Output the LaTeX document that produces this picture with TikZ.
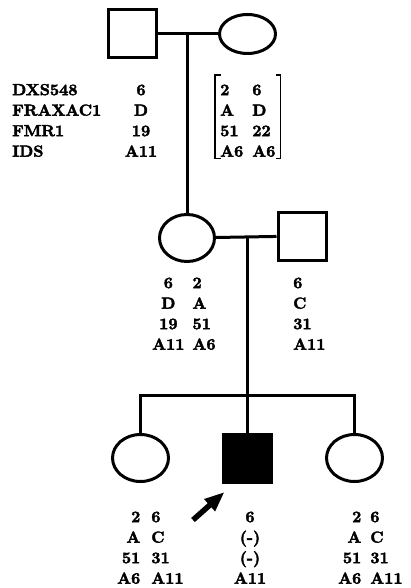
\documentclass[tikz,border=0pt]{standalone}
\usepackage{fontspec}
\usetikzlibrary{arrows.meta,positioning,calc,shapes.geometric}
\newfontfamily\hapfam{lmroman10-bold.otf}[FakeBold=2.5]

\begin{document}
\begin{tikzpicture}[
 x=1pt,y=-1pt,
 male/.style={draw,line width=3pt,minimum size=48pt,inner sep=0pt},
 female/.style={ellipse,draw,line width=3pt,minimum width=56pt,minimum height=47pt,inner sep=0pt},
 ln/.style={line width=3pt},
 hap/.style={inner sep=0pt,font=\hapfam\fontsize{16}{20.5}\selectfont},
 brk/.style={line width=1.4pt},
 arr/.style={-{Triangle[length=20pt,width=15pt]},line width=5.5pt}
]
\useasboundingbox (0,0) rectangle (410,588);
% generation I
\node[male] (f1) at (132,34) {};
\node[female,minimum height=39pt] (m1) at (247.5,34) {};
% generation II
\node[female,minimum width=55pt] (m2) at (187,238) {};
\node[male] (f2) at (302,236) {};
% generation III
\node[female] (d1) at (140.5,458) {};
\node[male,fill=black] (prob) at (247,458.5) {};
\node[female] (d3) at (354.5,458) {};
\coordinate (sib) at (247,395);
\coordinate (ptr) at (193,520);

\draw[ln] (f1) -- (m1);
\draw[ln] (m2.north |- f1.east) -- (m2.north);
\draw[ln] (m2) -- (f2);
\draw[ln] (prob.north |- m2.east) -- (sib) -- (prob.north);
\draw[ln] (d1.north) -- (d1.north |- sib) -- (d3.north |- sib) -- (d3.north);
\draw[arr] (ptr) -- ($(prob.south west)+(3,8)$);

% haplotypes
\node[hap,anchor=north west] (loci) at (12,80.6) {\begin{tabular}{@{}l@{}}DXS548\\FRAXAC1\\FMR1\\IDS\end{tabular}};
\node[hap,anchor=north] (hf1) at (141,80.6) {\begin{tabular}{@{}c@{}}6\\D\\19\\A11\end{tabular}};
\node[hap,anchor=north west] (hm1) at (220,80.6) {\begin{tabular}{@{}l@{\hspace{9pt}}l@{}}2&6\\A&D\\51&22\\A6&A6\end{tabular}};
\draw[brk] ([xshift=1pt,yshift=5.5pt]hm1.north west) -- ++(-6,0) |- ([xshift=1pt,yshift=4.5pt]hm1.south west);
\draw[brk] ([xshift=0pt,yshift=5.5pt]hm1.north east) -- ++(5,0) |- ([xshift=0pt,yshift=4.5pt]hm1.south east);
\node[hap,anchor=north west] (hm2) at (152,273.6) {\begin{tabular}{@{}c@{\hspace{8pt}}l@{}}6&2\\D&A\\19&51\\A11&A6\end{tabular}};
\node[hap,anchor=north west] (hf2) at (293,273.6) {\begin{tabular}{@{}l@{}}6\\C\\31\\A11\end{tabular}};
\node[hap,anchor=north west] (hd1) at (117,507.6) {\begin{tabular}{@{}r@{\hspace{11pt}}l@{}}2&6\\A&C\\51&31\\A6&A11\end{tabular}};
\node[hap,anchor=north] (hp) at (250,507.6) {\begin{tabular}{@{}c@{}}6\\(-)\\(-)\\A11\end{tabular}};
\node[hap,anchor=north west] (hd3) at (338,507.6) {\begin{tabular}{@{}r@{\hspace{9pt}}l@{}}2&6\\A&C\\51&31\\A6&A11\end{tabular}};
\end{tikzpicture}
\end{document}
